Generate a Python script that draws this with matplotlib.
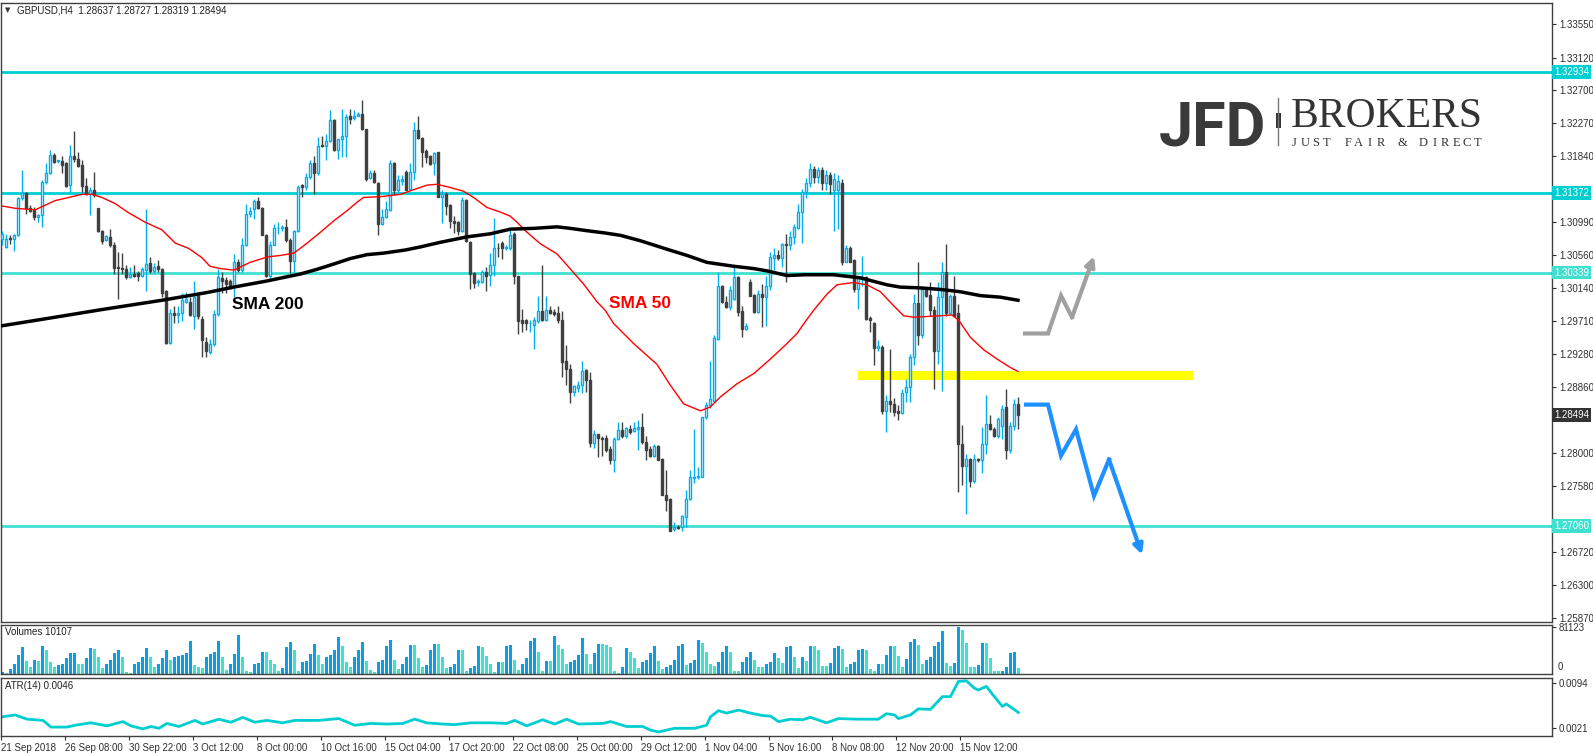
import numpy as np
import matplotlib
matplotlib.use("Agg")
from matplotlib import pyplot as plt
from matplotlib import transforms
from matplotlib.patches import Rectangle

plt.rcParams['font.family'] = ['Liberation Sans', 'DejaVu Sans']
plt.rcParams['font.size'] = 7

# ---- GBPUSD H4 candles ----
opens = [
    1.3077, 1.3067, 1.3078, 1.3077, 1.3082, 1.3130, 1.3137, 1.3118, 1.3115, 1.3106,
    1.3108, 1.3151, 1.3162, 1.3186, 1.3178, 1.3178, 1.3175, 1.3147, 1.3184, 1.3181,
    1.3173, 1.3146, 1.3135, 1.3140, 1.3117, 1.3087, 1.3076, 1.3080, 1.3069, 1.3041,
    1.3040, 1.3039, 1.3028, 1.3032, 1.3033, 1.3030, 1.3037, 1.3046, 1.3036, 1.3042,
    1.3039, 1.3010, 1.2943, 1.2982, 1.2979, 1.2981, 1.2996, 1.2996, 1.2978, 1.3005,
    1.2974, 1.2944, 1.2931, 1.2942, 1.2980, 1.3027, 1.3024, 1.3023, 1.3015, 1.3047,
    1.3037, 1.3069, 1.3109, 1.3116, 1.3126, 1.3118, 1.3083, 1.3029, 1.3070, 1.3091,
    1.3091, 1.3093, 1.3076, 1.3049, 1.3088, 1.3147, 1.3144, 1.3158, 1.3176, 1.3162,
    1.3199, 1.3197, 1.3204, 1.3231, 1.3192, 1.3206, 1.3210, 1.3236, 1.3234, 1.3237,
    1.3239, 1.3219, 1.3156, 1.3162, 1.3150, 1.3097, 1.3106, 1.3115, 1.3175, 1.3140,
    1.3152, 1.3164, 1.3142, 1.3164, 1.3218, 1.3208, 1.3191, 1.3184, 1.3175, 1.3190,
    1.3132, 1.3136, 1.3121, 1.3101, 1.3099, 1.3088, 1.3128, 1.3074, 1.3033, 1.3021,
    1.3021, 1.3035, 1.3031, 1.3044, 1.3066, 1.3072, 1.3065, 1.3065, 1.3084, 1.3029,
    1.2972, 1.2972, 1.2968, 1.2966, 1.2971, 1.2984, 1.2973, 1.2985, 1.2983, 1.2981,
    1.2973, 1.2919, 1.2909, 1.2879, 1.2885, 1.2888, 1.2908, 1.2895, 1.2813, 1.2825,
    1.2820, 1.2820, 1.2805, 1.2791, 1.2819, 1.2830, 1.2822, 1.2832, 1.2829, 1.2832,
    1.2834, 1.2814, 1.2806, 1.2797, 1.2810, 1.2793, 1.2746, 1.2741, 1.2702, 1.2705,
    1.2705, 1.2717, 1.2741, 1.2768, 1.2769, 1.2770, 1.2847, 1.2862, 1.2868, 1.2948,
    1.3016, 1.2996, 1.2989, 1.2999, 1.3028, 1.2984, 1.2961, 1.3022, 1.3005, 1.2983,
    1.3006, 1.3002, 1.3016, 1.3053, 1.3057, 1.3053, 1.3071, 1.3069, 1.3080, 1.3091,
    1.3112, 1.3138, 1.3150, 1.3168, 1.3158, 1.3166, 1.3150, 1.3160, 1.3140, 1.3140,
    1.3150, 1.3048, 1.3065, 1.3050, 1.3013, 1.3026, 1.3028, 1.2975, 1.2969, 1.2936,
    1.2938, 1.2855, 1.2868, 1.2864, 1.2855, 1.2852, 1.2879, 1.2886, 1.2924, 1.2995,
    1.2953, 1.3013, 1.3005, 1.2985, 1.2933, 1.3002, 1.3034, 1.2982, 1.3003, 1.2982,
    1.2812, 1.2783, 1.2793, 1.2764, 1.2793, 1.2792, 1.2812, 1.2838, 1.2831, 1.2822,
    1.2835, 1.2860, 1.2804, 1.2835, 1.2864,
]
highs = [
    1.3087, 1.3084, 1.3082, 1.3084, 1.3132, 1.3166, 1.3138, 1.3121, 1.3119, 1.3110,
    1.3153, 1.3176, 1.3193, 1.3188, 1.3180, 1.3184, 1.3177, 1.3199, 1.3217, 1.3190,
    1.3179, 1.3156, 1.3145, 1.3164, 1.3118, 1.3089, 1.3082, 1.3090, 1.3074, 1.3061,
    1.3059, 1.3043, 1.3041, 1.3043, 1.3036, 1.3041, 1.3116, 1.3054, 1.3046, 1.3050,
    1.3040, 1.3011, 1.2987, 1.2990, 1.2990, 1.3007, 1.3009, 1.3002, 1.3023, 1.3007,
    1.2977, 1.2950, 1.2948, 1.2985, 1.3039, 1.3034, 1.3028, 1.3026, 1.3058, 1.3052,
    1.3078, 1.3123, 1.3119, 1.3129, 1.3132, 1.3119, 1.3084, 1.3075, 1.3097, 1.3099,
    1.3095, 1.3103, 1.3078, 1.3089, 1.3147, 1.3149, 1.3162, 1.3179, 1.3185, 1.3209,
    1.3211, 1.3213, 1.3244, 1.3233, 1.3207, 1.3246, 1.3239, 1.3246, 1.3244, 1.3241,
    1.3257, 1.3220, 1.3166, 1.3166, 1.3151, 1.3116, 1.3127, 1.3179, 1.3177, 1.3160,
    1.3160, 1.3166, 1.3175, 1.3229, 1.3236, 1.3209, 1.3194, 1.3186, 1.3190, 1.3190,
    1.3140, 1.3138, 1.3122, 1.3107, 1.3100, 1.3131, 1.3129, 1.3075, 1.3034, 1.3026,
    1.3037, 1.3041, 1.3059, 1.3104, 1.3072, 1.3075, 1.3069, 1.3091, 1.3086, 1.3030,
    1.2987, 1.2974, 1.2972, 1.2976, 1.3004, 1.3043, 1.3004, 1.2990, 1.2987, 1.2990,
    1.2984, 1.2940, 1.2915, 1.2888, 1.2894, 1.2919, 1.2909, 1.2905, 1.2830, 1.2825,
    1.2822, 1.2824, 1.2810, 1.2821, 1.2841, 1.2840, 1.2834, 1.2837, 1.2840, 1.2843,
    1.2852, 1.2823, 1.2810, 1.2812, 1.2811, 1.2794, 1.2778, 1.2742, 1.2711, 1.2707,
    1.2720, 1.2752, 1.2779, 1.2832, 1.2782, 1.2847, 1.2866, 1.2920, 1.2953, 1.3034,
    1.3018, 1.3004, 1.3017, 1.3041, 1.3029, 1.2991, 1.2968, 1.3025, 1.3006, 1.3011,
    1.3019, 1.3030, 1.3060, 1.3065, 1.3063, 1.3072, 1.3084, 1.3088, 1.3097, 1.3123,
    1.3142, 1.3156, 1.3176, 1.3172, 1.3170, 1.3170, 1.3166, 1.3164, 1.3162, 1.3160,
    1.3155, 1.3070, 1.3068, 1.3052, 1.3030, 1.3055, 1.3029, 1.2978, 1.2970, 1.2946,
    1.2940, 1.2876, 1.2935, 1.2871, 1.2862, 1.2883, 1.2896, 1.2929, 1.3006, 1.3047,
    1.3015, 1.3015, 1.3021, 1.2991, 1.3021, 1.3047, 1.3071, 1.3006, 1.3030, 1.2993,
    1.2837, 1.2799, 1.2794, 1.2799, 1.2794, 1.2834, 1.2876, 1.2850, 1.2834, 1.2847,
    1.2862, 1.2883, 1.2840, 1.2870, 1.2873,
]
lows = [
    1.3069, 1.3066, 1.3071, 1.3062, 1.3081, 1.3128, 1.3110, 1.3112, 1.3102, 1.3099,
    1.3093, 1.3148, 1.3161, 1.3176, 1.3175, 1.3162, 1.3145, 1.3138, 1.3177, 1.3171,
    1.3138, 1.3134, 1.3108, 1.3132, 1.3086, 1.3071, 1.3075, 1.3067, 1.3032, 1.2999,
    1.3032, 1.3026, 1.3027, 1.3028, 1.3023, 1.3028, 1.3010, 1.3033, 1.3033, 1.3035,
    1.3002, 1.2942, 1.2942, 1.2968, 1.2969, 1.2971, 1.2994, 1.2977, 1.2961, 1.2974,
    1.2924, 1.2924, 1.2929, 1.2939, 1.2978, 1.3008, 1.3008, 1.3013, 1.3002, 1.3035,
    1.3035, 1.3068, 1.3106, 1.3103, 1.3116, 1.3082, 1.3028, 1.3027, 1.3069, 1.3084,
    1.3088, 1.3073, 1.3033, 1.3034, 1.3086, 1.3132, 1.3140, 1.3155, 1.3136, 1.3160,
    1.3196, 1.3179, 1.3203, 1.3191, 1.3181, 1.3183, 1.3183, 1.3226, 1.3231, 1.3236,
    1.3218, 1.3152, 1.3155, 1.3150, 1.3082, 1.3096, 1.3105, 1.3114, 1.3136, 1.3138,
    1.3147, 1.3140, 1.3140, 1.3154, 1.3206, 1.3170, 1.3176, 1.3173, 1.3160, 1.3131,
    1.3098, 1.3108, 1.3092, 1.3085, 1.3082, 1.3086, 1.3073, 1.3013, 1.3014, 1.3016,
    1.3020, 1.3010, 1.3017, 1.3030, 1.3054, 1.3051, 1.3063, 1.3063, 1.3019, 1.2955,
    1.2957, 1.2959, 1.2957, 1.2935, 1.2968, 1.2971, 1.2971, 1.2980, 1.2977, 1.2968,
    1.2899, 1.2888, 1.2865, 1.2874, 1.2879, 1.2878, 1.2879, 1.2808, 1.2807, 1.2795,
    1.2797, 1.2802, 1.2786, 1.2776, 1.2817, 1.2820, 1.2820, 1.2825, 1.2827, 1.2804,
    1.2812, 1.2791, 1.2795, 1.2795, 1.2791, 1.2746, 1.2726, 1.2699, 1.2699, 1.2702,
    1.2699, 1.2705, 1.2740, 1.2761, 1.2767, 1.2769, 1.2845, 1.2858, 1.2867, 1.2947,
    1.2995, 1.2988, 1.2986, 1.2998, 1.2978, 1.2950, 1.2960, 1.3004, 1.2982, 1.2981,
    1.2963, 1.2965, 1.3011, 1.3037, 1.3050, 1.3041, 1.3022, 1.3063, 1.3071, 1.3090,
    1.3072, 1.3130, 1.3145, 1.3150, 1.3150, 1.3140, 1.3140, 1.3135, 1.3087, 1.3090,
    1.3044, 1.3047, 1.3047, 1.3009, 1.2987, 1.3017, 1.2973, 1.2957, 1.2914, 1.2933,
    1.2851, 1.2827, 1.2853, 1.2848, 1.2843, 1.2851, 1.2866, 1.2866, 1.2914, 1.2940,
    1.2949, 1.3002, 1.2978, 1.2883, 1.2916, 1.2880, 1.2978, 1.2979, 1.2977, 1.2750,
    1.2759, 1.2722, 1.2756, 1.2762, 1.2789, 1.2775, 1.2799, 1.2830, 1.2821, 1.2820,
    1.2818, 1.2793, 1.2800, 1.2830, 1.2832,
]
closes = [
    1.3084, 1.3077, 1.3077, 1.3083, 1.3130, 1.3137, 1.3117, 1.3114, 1.3106, 1.3108,
    1.3151, 1.3162, 1.3186, 1.3177, 1.3179, 1.3173, 1.3146, 1.3184, 1.3181, 1.3172,
    1.3146, 1.3135, 1.3140, 1.3134, 1.3087, 1.3075, 1.3081, 1.3069, 1.3040, 1.3040,
    1.3039, 1.3028, 1.3032, 1.3030, 1.3030, 1.3038, 1.3045, 1.3036, 1.3041, 1.3038,
    1.3008, 1.2943, 1.2981, 1.2979, 1.2982, 1.2998, 1.3000, 1.2979, 1.3002, 1.2977,
    1.2946, 1.2932, 1.2942, 1.2980, 1.3028, 1.3023, 1.3019, 1.3015, 1.3047, 1.3037,
    1.3069, 1.3109, 1.3114, 1.3126, 1.3118, 1.3083, 1.3029, 1.3070, 1.3091, 1.3092,
    1.3093, 1.3076, 1.3049, 1.3088, 1.3144, 1.3144, 1.3158, 1.3176, 1.3162, 1.3198,
    1.3197, 1.3204, 1.3231, 1.3192, 1.3206, 1.3210, 1.3235, 1.3233, 1.3237, 1.3239,
    1.3219, 1.3155, 1.3162, 1.3151, 1.3097, 1.3106, 1.3116, 1.3175, 1.3140, 1.3154,
    1.3155, 1.3141, 1.3164, 1.3218, 1.3208, 1.3190, 1.3183, 1.3174, 1.3189, 1.3132,
    1.3136, 1.3120, 1.3101, 1.3098, 1.3088, 1.3128, 1.3075, 1.3032, 1.3020, 1.3023,
    1.3035, 1.3030, 1.3044, 1.3065, 1.3065, 1.3065, 1.3067, 1.3083, 1.3029, 1.2971,
    1.2969, 1.2969, 1.2969, 1.2972, 1.2984, 1.2973, 1.2985, 1.2982, 1.2980, 1.2972,
    1.2918, 1.2909, 1.2879, 1.2887, 1.2889, 1.2907, 1.2895, 1.2813, 1.2825, 1.2820,
    1.2818, 1.2804, 1.2791, 1.2819, 1.2830, 1.2822, 1.2833, 1.2828, 1.2833, 1.2834,
    1.2814, 1.2804, 1.2797, 1.2810, 1.2792, 1.2746, 1.2739, 1.2700, 1.2705, 1.2703,
    1.2719, 1.2741, 1.2769, 1.2770, 1.2771, 1.2847, 1.2863, 1.2870, 1.2949, 1.3016,
    1.2996, 1.2989, 1.3011, 1.3028, 1.2983, 1.2961, 1.2965, 1.3004, 1.2983, 1.3006,
    1.3002, 1.3017, 1.3054, 1.3057, 1.3053, 1.3071, 1.3070, 1.3080, 1.3093, 1.3112,
    1.3138, 1.3150, 1.3168, 1.3158, 1.3166, 1.3150, 1.3160, 1.3148, 1.3155, 1.3152,
    1.3048, 1.3065, 1.3048, 1.3013, 1.3028, 1.3028, 1.2974, 1.2973, 1.2936, 1.2939,
    1.2855, 1.2868, 1.2864, 1.2854, 1.2852, 1.2878, 1.2886, 1.2924, 1.2995, 1.2953,
    1.3013, 1.3004, 1.2985, 1.2933, 1.3002, 1.3034, 1.2982, 1.3003, 1.2978, 1.2812,
    1.2783, 1.2793, 1.2764, 1.2793, 1.2791, 1.2812, 1.2838, 1.2831, 1.2822, 1.2844,
    1.2857, 1.2804, 1.2835, 1.2864, 1.2849,
]

# tick volume per bar, thousands
volumes_k = [
    3.0, 1.2, 9.0, 18.0, 33.0, 46.5, 22.7, 12.0, 24.0, 22.7,
    47.8, 40.6, 21.0, 12.0, 15.0, 16.7, 26.9, 35.8, 37.0, 16.7,
    16.7, 26.9, 44.8, 43.0, 29.9, 10.7, 16.7, 23.9, 35.8, 41.8,
    28.7, 3.0, 1.2, 16.7, 20.9, 28.7, 44.8, 29.9, 12.0, 17.9,
    26.9, 40.6, 23.9, 29.9, 31.0, 32.8, 35.8, 56.7, 14.9, 11.9,
    10.7, 28.7, 34.6, 38.8, 56.7, 29.9, 7.2, 17.9, 34.6, 67.5,
    28.7, 6.0, 3.0, 16.7, 19.1, 38.8, 38.8, 25.0, 16.7, 6.0,
    10.7, 46.6, 55.0, 40.6, 6.0, 20.9, 22.7, 34.6, 52.5, 32.8,
    17.9, 28.7, 32.8, 41.8, 63.9, 49.0, 20.9, 11.9, 28.7, 41.8,
    55.0, 22.7, 7.2, 3.0, 20.9, 23.9, 47.8, 58.5, 25.0, 9.0,
    17.9, 28.7, 50.7, 50.7, 26.9, 11.9, 14.9, 41.8, 52.5, 52.5,
    29.9, 10.7, 11.9, 16.7, 41.8, 41.8, 6.0, 10.7, 13.1, 49.0,
    46.6, 31.0, 16.7, 3.0, 20.9, 20.9, 49.0, 50.7, 25.0, 7.2,
    16.7, 26.9, 56.7, 62.7, 38.8, 6.0, 22.7, 22.7, 65.7, 50.7,
    43.0, 17.9, 20.9, 23.9, 32.8, 62.7, 34.6, 17.9, 37.0, 52.5,
    52.5, 50.7, 46.6, 6.0, 1.2, 11.9, 44.8, 38.8, 26.9, 10.7,
    20.9, 23.9, 35.8, 49.0, 22.7, 9.0, 11.9, 14.9, 23.9, 47.8,
    52.5, 14.9, 19.1, 23.9, 58.5, 53.7, 38.8, 17.9, 13.1, 20.9,
    38.8, 49.0, 38.8, 6.0, 6.0, 20.9, 29.9, 38.8, 25.0, 11.9,
    11.9, 16.7, 20.9, 35.8, 26.9, 19.7, 46.6, 47.8, 28.7, 10.7,
    28.7, 22.7, 47.8, 47.8, 40.6, 13.7, 13.7, 19.7, 45.4, 47.8,
    43.6, 11.9, 16.7, 21.5, 40.6, 43.6, 41.8, 7.8, 6.0, 18.0,
    16.7, 33.4, 47.8, 47.8, 31.6, 11.9, 25.7, 55.5, 59.7, 49.6,
    16.7, 23.9, 29.9, 47.8, 55.5, 74.6, 19.7, 13.7, 19.7, 81.123,
    76.4, 53.7, 11.9, 11.9, 15.5, 53.7, 53.7, 27.5, 4.8, 4.8,
    6.0, 11.9, 35.8, 37.6, 10.107,
]

# moving averages (bar, price)
sma50_bar = [0, 3.3, 8.3, 10.8, 13.3, 16.7, 20, 22.5, 25, 28.3, 31.7, 35.8, 40, 43.3, 46.7,
             50, 52, 54.6, 57.9, 62, 66.3, 69.6, 73, 76.3, 79.6, 83, 86.3, 88.8, 90.4, 94.6,
             99.6, 102.9, 106.3, 108.75, 112, 115.4, 117.9, 121.25, 124.6, 127, 128.75,
             131.25, 134.6, 138.75, 142, 145.4, 148.75, 150.8, 152.9, 157.9, 163.75, 167.1,
             170.4, 174.6, 177.1, 179.6, 183.75, 187.9, 192.1, 196.25, 198.75, 200.5, 202.9,
             206.25, 208.75, 212.9, 216.25, 219.6, 222.9, 225.4, 227.9, 231.25, 234.6, 237.5,
             239.2, 242.1, 245.4, 248.75, 252.1, 254]
sma50_val = [1.3120, 1.3117, 1.3115, 1.3121, 1.3127, 1.3131, 1.3135, 1.3135, 1.3131, 1.3123,
             1.3111, 1.3099, 1.3089, 1.3072, 1.3065, 1.3053, 1.3042, 1.3039, 1.3037, 1.3047,
             1.3054, 1.3056, 1.3059, 1.3072, 1.3086, 1.3101, 1.3114, 1.3125, 1.3131, 1.3132,
             1.3135, 1.3141, 1.3147, 1.3148, 1.3144, 1.3139, 1.3131, 1.3118, 1.3112, 1.3107,
             1.3099, 1.3086, 1.3071, 1.3058, 1.3039, 1.3019, 1.2996, 1.2985, 1.2968, 1.2942,
             1.2915, 1.2888, 1.2864, 1.2855, 1.2860, 1.2873, 1.2890, 1.2903, 1.2922, 1.2942,
             1.2955, 1.2968, 1.2985, 1.3006, 1.3018, 1.3021, 1.3018, 1.3009, 1.2991, 1.2978,
             1.2976, 1.2977, 1.2978, 1.2979, 1.2972, 1.2950, 1.2934, 1.2922, 1.2911, 1.2906]
sma200_bar = [0, 12, 25, 40, 51.25, 57.9, 66.25, 74.6, 78.75, 83, 87.1, 91.25,
              95.4, 100.8, 104.6, 109.6, 116.25, 122.1, 127.1, 132.9, 138.75, 142.1, 146.25,
              150.8, 154.6, 159.6, 166.25, 171.25, 176.25, 182.9, 187.9, 191.25, 196.25, 200.8,
              207.9, 214.6, 221.25, 224.6, 229.6, 234.6, 239.6, 244.6, 249.6, 254]
sma200_val = [1.2965, 1.2975, 1.2986, 1.2998, 1.3008, 1.3015, 1.3023, 1.3032,
              1.3038, 1.3045, 1.3052, 1.3057, 1.3059, 1.3063, 1.3067, 1.3073, 1.3080, 1.3084,
              1.3090, 1.3091, 1.3093, 1.3091, 1.3088, 1.3085, 1.3082, 1.3075, 1.3064, 1.3056,
              1.3047, 1.3042, 1.3039, 1.3036, 1.3030, 1.3031, 1.3031, 1.3027, 1.3018, 1.3015,
              1.3014, 1.3012, 1.3009, 1.3004, 1.3002, 1.2998]

# ATR(14) (bar, value)
atr_bar = [0, 3, 6, 10, 12, 16, 18, 22, 26, 30, 32, 35, 37, 39, 41, 44, 48, 50, 54, 57,
           60, 63, 66, 70, 73, 79, 84, 88, 92, 96, 100, 103, 106, 110, 113, 117, 122, 126, 128, 131,
           135, 138, 141, 144, 150, 152, 156, 160, 162, 164, 168, 173, 176, 177, 179, 181, 184, 187,
           190, 192, 194, 197, 200, 202, 206, 209, 214, 219, 221, 223, 224, 227, 229, 232, 233, 235,
           237, 239, 241, 243, 244, 246, 248, 250, 251, 254]
atr_val = [0.0039, 0.0042, 0.0035, 0.0033, 0.0022, 0.0022, 0.0025, 0.0029, 0.0024, 0.0031,
           0.0024, 0.0019, 0.0023, 0.0020, 0.0028, 0.0023, 0.0033, 0.0027, 0.0035, 0.0030,
           0.0038, 0.0030, 0.0033, 0.0029, 0.0033, 0.0033, 0.0036, 0.0025, 0.0028, 0.0027,
           0.0028, 0.0035, 0.0029, 0.0027, 0.0026, 0.0029, 0.0029, 0.0028, 0.0033, 0.0024,
           0.0034, 0.0027, 0.0035, 0.0027, 0.0028, 0.0031, 0.0023, 0.0023, 0.0017, 0.0014,
           0.0020, 0.0020, 0.0025, 0.0039, 0.0049, 0.0045, 0.0050, 0.0045, 0.0041, 0.0040,
           0.0031, 0.0035, 0.0034, 0.0038, 0.0029, 0.0036, 0.0035, 0.0035, 0.0044, 0.0042,
           0.0036, 0.0042, 0.0052, 0.0051, 0.0058, 0.0072, 0.0072, 0.0097, 0.0098, 0.0086,
           0.0083, 0.0089, 0.0072, 0.0056, 0.0060, 0.0046]

levels = [1.32934, 1.31372, 1.30339, 1.27060]
level_colors = ['#00CED1', '#00CED1', '#40E0D0', '#40E0D0']
last_price = 1.28494
price_ticks = [1.33550, 1.33120, 1.32700, 1.32270, 1.31840, 1.31410, 1.30990, 1.30560,
               1.30140, 1.29710, 1.29280, 1.28860, 1.28430, 1.28000, 1.27580, 1.27150,
               1.26720, 1.26300, 1.25870]
hidden_ticks = [1.31410, 1.28430, 1.27150]   # covered by the price boxes
date_labels = ['21 Sep 2018', '26 Sep 08:00', '30 Sep 22:00', '3 Oct 12:00', '8 Oct 00:00',
               '10 Oct 16:00', '15 Oct 04:00', '17 Oct 20:00', '22 Oct 08:00', '25 Oct 00:00',
               '29 Oct 12:00', '1 Nov 04:00', '5 Nov 16:00', '8 Nov 08:00', '12 Nov 20:00',
               '15 Nov 12:00']

# drawn-in analysis: support zone and the two scenario arrows
zone_bars = (214, 297.75)
zone_prices = (1.2895, 1.2906)
up_path_bar = [255.75, 261.5, 264.75, 267.5, 273.0]
up_path_price = [1.2955, 1.2955, 1.3004, 1.2976, 1.3055]
down_path_bar = [256, 261.5, 264.75, 268.5, 273, 276.75, 285]
down_path_price = [1.2863, 1.2863, 1.2797, 1.2831, 1.2745, 1.2792, 1.2669]

BULL, BEAR = '#00AEEF', '#404040'
W, H = 1593, 753
fig = plt.figure(figsize=(W / 100, H / 100), dpi=100)


def panel(top, bottom):
    return fig.add_axes([1 / W, 1 - bottom / H, 1551 / W, (bottom - top) / H])


ax = panel(3, 622)
axv = panel(625, 674)
axa = panel(678, 736)
for a in (ax, axv, axa):
    a.set_xlim(-0.25, 387.5)
    for s in a.spines.values():
        s.set_color('#404040')
        s.set_linewidth(1)
    a.yaxis.tick_right()
    a.tick_params(axis='y', direction='out', length=3, width=0.8, pad=2,
                  labelsize=7, colors='#303030')
    a.tick_params(axis='x', bottom=False, labelbottom=False)

# --- main price panel ---
o, h, l, c = map(np.array, (opens, highs, lows, closes))
idx = np.arange(len(o))
up = c >= o
ax.set_ylim(1.258178, 1.338256)
ax.set_yticks(price_ticks)
ax.set_yticklabels(['' if t in hidden_ticks else f'{t:.5f}' for t in price_ticks])

for lvl, col in zip(levels, level_colors):
    ax.axhline(lvl, color=col, lw=2, zorder=1)
ax.add_patch(Rectangle((zone_bars[0], zone_prices[0]), zone_bars[1] - zone_bars[0],
                       zone_prices[1] - zone_prices[0], fc='#FFFF00', ec='none', zorder=1.5))

ax.vlines(idx[up], l[up], h[up], color=BULL, lw=1, zorder=3)
ax.vlines(idx[~up], l[~up], h[~up], color=BEAR, lw=1, zorder=3)
lo = np.minimum(o, c)
ht = np.abs(c - o)
ax.bar(idx[up], ht[up], bottom=lo[up], width=0.5, facecolor='white',
       edgecolor=BULL, lw=1, zorder=4)
ax.bar(idx[~up], ht[~up], bottom=lo[~up], width=0.5, color=BEAR,
       edgecolor=BEAR, lw=1, zorder=4)

ax.plot(sma50_bar, sma50_val, color='#FF0000', lw=1, zorder=5)
ax.plot(sma200_bar, sma200_val, color='black', lw=2.5, zorder=5)
ax.text(66.5, 1.29925, 'SMA 200', fontsize=12.5, fontweight='bold', color='black',
        ha='center', va='center', zorder=6)
ax.text(159.5, 1.29932, 'SMA 50', fontsize=12.5, fontweight='bold', color='#FF0000',
        ha='center', va='center', zorder=6)

for xs, ys, col in ((up_path_bar, up_path_price, '#A0A0A0'),
                    (down_path_bar, down_path_price, '#1E90FF')):
    ax.plot(xs[:-1], ys[:-1], color=col, lw=3, zorder=6, solid_joinstyle='miter')
    ax.annotate('', xy=(xs[-1], ys[-1]), xytext=(xs[-2], ys[-2]),
                arrowprops=dict(arrowstyle='-|>', color=col, lw=3, mutation_scale=14,
                                shrinkA=0, shrinkB=0), zorder=6)

tr = transforms.blended_transform_factory(ax.transAxes, ax.transData)
for lvl, col in list(zip(levels, level_colors)) + [(last_price, '#333333')]:
    ax.text(1.0015, lvl, f'{lvl:.5f}', transform=tr, ha='left', va='center', fontsize=7,
            color='white', clip_on=False, zorder=10,
            bbox=dict(boxstyle='square,pad=0.2', fc=col, ec='none'))

# --- volumes ---
vol = np.array(volumes_k) * 1000
rising = np.r_[True, vol[1:] > vol[:-1]]
axv.bar(idx, vol, width=0.75, color=np.where(rising, '#0A9EE6', '#40E0D0'), lw=0)
axv.set_ylim(0, 84600)
axv.set_yticks([81123])
axv.set_yticklabels(['81123'])

# --- ATR ---
axa.plot(atr_bar, atr_val, color='#00CED1', lw=2)
axa.set_ylim(0.000735, 0.01027)
axa.set_yticks([0.0021, 0.0094])
axa.set_yticklabels(['0.0021', '0.0094'])
axa.set_xticks(np.arange(len(date_labels)) * 16 - 0.5)
axa.set_xticklabels(date_labels)
axa.tick_params(axis='x', bottom=True, labelbottom=True, direction='out', length=3,
                width=0.8, pad=2, labelsize=7, colors='#303030')
for lbl in axa.get_xticklabels():
    lbl.set_ha('left')

# --- overlay in pixel coordinates: header, panel titles, logo ---
ov = fig.add_axes([0, 0, 1, 1])
ov.set_xlim(0, W)
ov.set_ylim(H, 0)
ov.axis('off')
ov.patch.set_visible(False)
ov.text(5, 10, '\u25bc', fontsize=5, color='#333333', va='center', family='DejaVu Sans')
ov.text(17, 10, 'GBPUSD,H4  1.28637 1.28727 1.28319 1.28494', fontsize=7,
        color='#222222', va='center')
ov.text(5, 632, 'Volumes 10107', fontsize=7, color='#222222', va='center')
ov.text(5, 686, 'ATR(14) 0.0046', fontsize=7, color='#222222', va='center')
ov.text(1558, 667, '0', fontsize=7, color='#303030', va='center')

ov.text(1159, 145, 'JFD', fontsize=44, fontweight='bold', family='Roboto',
        color='#3a3a3a', va='baseline')
ov.plot([1278, 1278], [98, 145], color='#777777', lw=1)
ov.add_patch(Rectangle((1276, 113), 4.5, 15, fc='#333333', ec='none'))
ov.text(1291, 127, 'BROKERS', fontsize=30, family='Liberation Serif', color='#333333',
        va='baseline')
for i, ch in enumerate('JUST FAIR & DIRECT'):
    ov.text(1294 + i * 10.8, 146, ch, fontsize=9, family='Liberation Serif',
            color='#333333', va='baseline', ha='center')

fig.savefig('out.png', dpi=100, facecolor='white')
